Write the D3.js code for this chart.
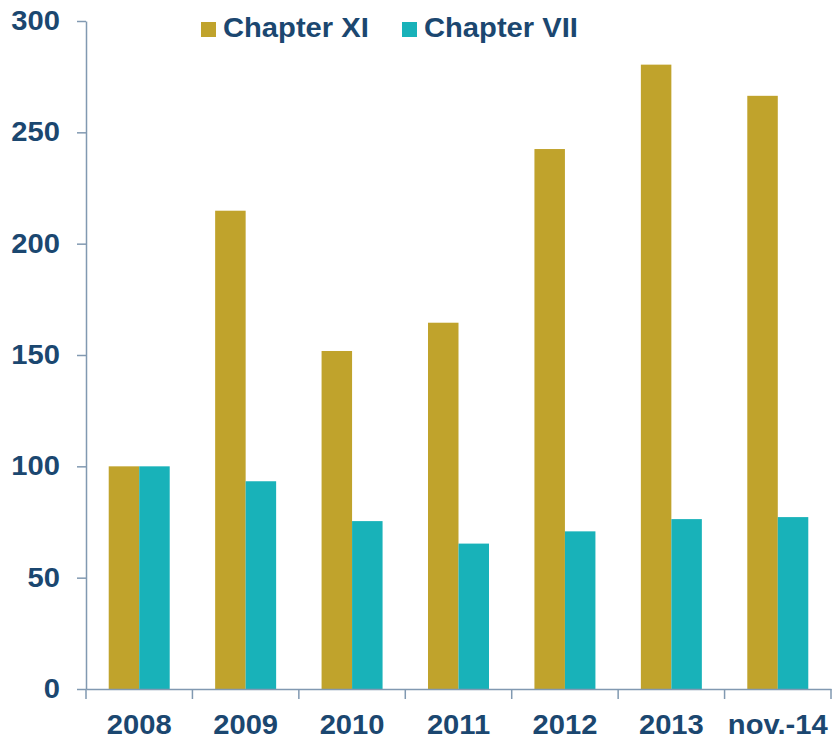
<!DOCTYPE html>
<html>
<head>
<meta charset="utf-8">
<script src="https://cdn.jsdelivr.net/npm/d3@7"></script>
<style>
  body { margin: 0; background: #fff; }
  svg { display: block; font-family: "Liberation Sans", Arial, sans-serif; font-weight: bold; }
</style>
</head>
<body>
<svg id="chart"></svg>
<script>
var categories = ["2008", "2009", "2010", "2011", "2012", "2013", "nov.-14"]
var seriesNames = ["Chapter XI", "Chapter VII"]
var chapterXI = [100, 214.8, 151.8, 164.5, 242.5, 280.4, 266.4]
var chapterVII = [100, 93.3, 75.4, 65.3, 70.8, 76.3, 77.2]
var yTicks = [0, 50, 100, 150, 200, 250, 300]

var dimensions = {
  width: 833,
  height: 739,
  margin: { top: 21, bottom: 50, right: 2, left: 86 }
}
var colors = { "Chapter XI": "#C0A32C", "Chapter VII": "#18B2B9" }
var textColor = "#1B4770"
var axisColor = "#8199B1"
var stretch = 1.08 // text in the original is a little wider than Arial

var data = categories.map((c, i) => ({
  cat: c,
  values: [
    { key: seriesNames[0], value: chapterXI[i] },
    { key: seriesNames[1], value: chapterVII[i] }
  ]
}))

var svg = d3.select("#chart")
  .attr("width", dimensions.width)
  .attr("height", dimensions.height)

var xScale = d3.scaleBand()
  .domain(categories)
  .range([dimensions.margin.left, dimensions.width - dimensions.margin.right])
  .paddingInner(0).paddingOuter(0)
var x1 = d3.scaleBand()
  .domain(seriesNames)
  .range([0, xScale.bandwidth()])
  .paddingInner(0).paddingOuter(0.745)
var yScale = d3.scaleLinear()
  .domain([0, 300])
  .range([dimensions.height - dimensions.margin.bottom, dimensions.margin.top])

// bars
svg.append("g").selectAll("g")
  .data(data)
  .join("g")
  .attr("transform", d => `translate(${xScale(d.cat)},0)`)
  .selectAll("rect")
  .data(d => d.values)
  .join("rect")
  .attr("x", d => x1(d.key))
  .attr("width", x1.bandwidth())
  .attr("y", d => yScale(d.value))
  .attr("height", d => yScale(0) - yScale(d.value))
  .attr("fill", d => colors[d.key])

// y axis
var yAxis = svg.append("g")
  .attr("transform", `translate(${dimensions.margin.left},0)`)
  .call(d3.axisLeft(yScale).tickValues(yTicks).tickSize(9).tickPadding(17).tickSizeOuter(0))
yAxis.select(".domain").attr("stroke", axisColor).attr("stroke-width", 1.5)
yAxis.selectAll(".tick line").attr("stroke", axisColor).attr("stroke-width", 1.5)
yAxis.selectAll(".tick text")
  .attr("fill", textColor)
  .style("font-size", "27px")
  .style("font-weight", "bold")

// x axis
var xAxis = svg.append("g")
  .attr("transform", `translate(0,${yScale(0)})`)
  .call(d3.axisBottom(xScale).tickSize(0).tickPadding(26).tickSizeOuter(0))
xAxis.select(".domain").attr("stroke", axisColor).attr("stroke-width", 1.5)
xAxis.selectAll(".tick text")
  .attr("fill", textColor)
  .style("font-size", "27px")
  .style("font-weight", "bold")
// tick marks at category boundaries
var bounds = categories.map(c => xScale(c)).concat([xScale.range()[1]])
xAxis.selectAll(".bound")
  .data(bounds)
  .join("line")
  .attr("class", "bound")
  .attr("x1", d => d).attr("x2", d => d)
  .attr("y1", 0).attr("y2", 10)
  .attr("stroke", axisColor).attr("stroke-width", 1.5)

// legend
var legendX = [201, 402]
var legend = svg.append("g")
  .selectAll("g")
  .data(seriesNames)
  .join("g")
  .attr("transform", (d, i) => `translate(${legendX[i]},22)`)
legend.append("rect")
  .attr("width", 15).attr("height", 15)
  .attr("fill", d => colors[d])
legend.append("text")
  .attr("x", 22).attr("y", 15)
  .attr("fill", textColor)
  .style("font-size", "27px")
  .text(d => d)

svg.selectAll("text").each(function () {
  var len = this.getComputedTextLength()
  d3.select(this)
    .attr("textLength", len * stretch)
    .attr("lengthAdjust", "spacingAndGlyphs")
})
</script>
</body>
</html>
